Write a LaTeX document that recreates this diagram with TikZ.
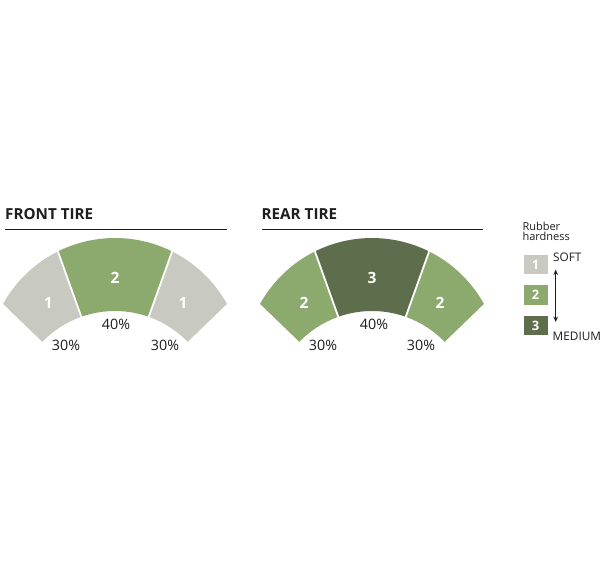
\documentclass[tikz,border=0pt]{standalone}
\usepackage{fontspec}
\setmainfont{Open Sans}
\setsansfont{Open Sans}
\usetikzlibrary{calc,arrows.meta}
\definecolor{softgray}{HTML}{C8C9C1}
\definecolor{midgreen}{HTML}{8CAA6E}
\definecolor{darkgreen}{HTML}{5E6E4C}
\definecolor{inktext}{HTML}{1E1E1E}
% segment: #1 inner start angle, #2 outer start, #3 outer end, #4 inner end, #5 colour, #6 prefix
\newcommand{\tireseg}[6]{%
  \fill[#5] ($(#6P)+(#1:101)$) -- ($(#6O)+(#2:128)$) arc[start angle=#2, end angle=#3, radius=128]
     -- ($(#6P)+(#4:101)$) arc[start angle=#4, end angle=#1, radius=101] -- cycle;}
\newcommand{\tiredivide}[3]{%
  \draw[white, line width=1.8pt] ($(#3P)+(#1:99)$) -- ($(#3O)+(#2:130)$);}
\begin{document}
\begin{tikzpicture}[x=1pt,y=1pt,
  title/.style={font=\fontsize{15.2}{17}\selectfont\bfseries, text=inktext, anchor=base west, inner sep=0pt},
  segnum/.style={font=\fontsize{15.5}{17}\selectfont\bfseries, text=white, inner sep=0pt},
  pct/.style={font=\fontsize{14.3}{16}\selectfont, text=inktext, inner sep=0pt},
  legtxt/.style={font=\fontsize{11}{12}\selectfont, text=inktext, anchor=base west, inner sep=0pt},
  legcap/.style={font=\fontsize{11.8}{13}\selectfont, text=inktext, anchor=base west, inner sep=0pt},
  legbox/.style={minimum width=24pt, minimum height=19.5pt, inner sep=0pt, text=white,
     font=\fontsize{13}{14}\selectfont\bfseries},
  rulebar/.style={draw=inktext, line width=1.3pt}]
\useasboundingbox (0,0) rectangle (600,-560);
\fill[white] (0,0) rectangle (600,-560);
% centres
\coordinate (fP) at (115,-412);
\coordinate (fO) at (115,-366);
\coordinate (rP) at (372,-412);
\coordinate (rO) at (372,-366);
% front tire
\tireseg{136}{150.98}{116.39}{109.5}{softgray}{f}
\tireseg{109.5}{116.39}{63.61}{70.5}{midgreen}{f}
\tireseg{70.5}{63.61}{29.02}{44}{softgray}{f}
\tiredivide{109.5}{116.39}{f}
\tiredivide{70.5}{63.61}{f}
% rear tire
\tireseg{136}{150.98}{116.39}{109.5}{midgreen}{r}
\tireseg{109.5}{116.39}{63.61}{70.5}{darkgreen}{r}
\tireseg{70.5}{63.61}{29.02}{44}{midgreen}{r}
\tiredivide{109.5}{116.39}{r}
\tiredivide{70.5}{63.61}{r}
% titles and rules
\node[title] (ftitle) at (5,-219.5) {FRONT TIRE};
\node[title] (rtitle) at (261.5,-219.5) {REAR TIRE};
\coordinate (fr1) at (5,-229.5); \coordinate (fr2) at (227,-229.5);
\coordinate (rr1) at (261.5,-229.5); \coordinate (rr2) at (483,-229.5);
\draw[rulebar] (fr1) -- (fr2);
\draw[rulebar] (rr1) -- (rr2);
% segment numbers
\node[segnum] (f1) at (48.3,-302.7) {1};
\node[segnum] (f2) at (115,-278.3) {2};
\node[segnum] (f3) at (183,-302.7) {1};
\node[segnum] (r1) at (304,-302.7) {2};
\node[segnum] (r2) at (372,-278.3) {3};
\node[segnum] (r3) at (440,-302.7) {2};
% percentages
\node[pct] (fp1) at (66,-345.5) {30\%};
\node[pct] (fp2) at (116,-324) {40\%};
\node[pct] (fp3) at (165,-345.5) {30\%};
\node[pct] (rp1) at (323,-345.5) {30\%};
\node[pct] (rp2) at (374,-324) {40\%};
\node[pct] (rp3) at (421,-345.5) {30\%};
% legend
\node[legtxt] (lg1) at (522.3,-230) {Rubber};
\node[legtxt] (lg2) at (522.3,-240.5) {hardness};
\node[legbox, fill=softgray, anchor=north west] (b1) at (523.3,-254.5) {1};
\node[legbox, fill=midgreen, anchor=north west] (b2) at (523.3,-285) {2};
\node[legbox, fill=darkgreen, anchor=north west] (b3) at (523.3,-315.5) {3};
\node[legcap] (soft) at (553,-261) {SOFT};
\node[legcap] (med) at (552.5,-340.7) {MEDIUM};
\coordinate (arT) at (555.7,-269.5);
\coordinate (arB) at (555.7,-322);
\draw[inktext, line width=1.2pt, {Stealth[length=5.5pt,width=4.5pt]}-{Stealth[length=5.5pt,width=4.5pt]}] (arT) -- (arB);
\end{tikzpicture}
\end{document}
